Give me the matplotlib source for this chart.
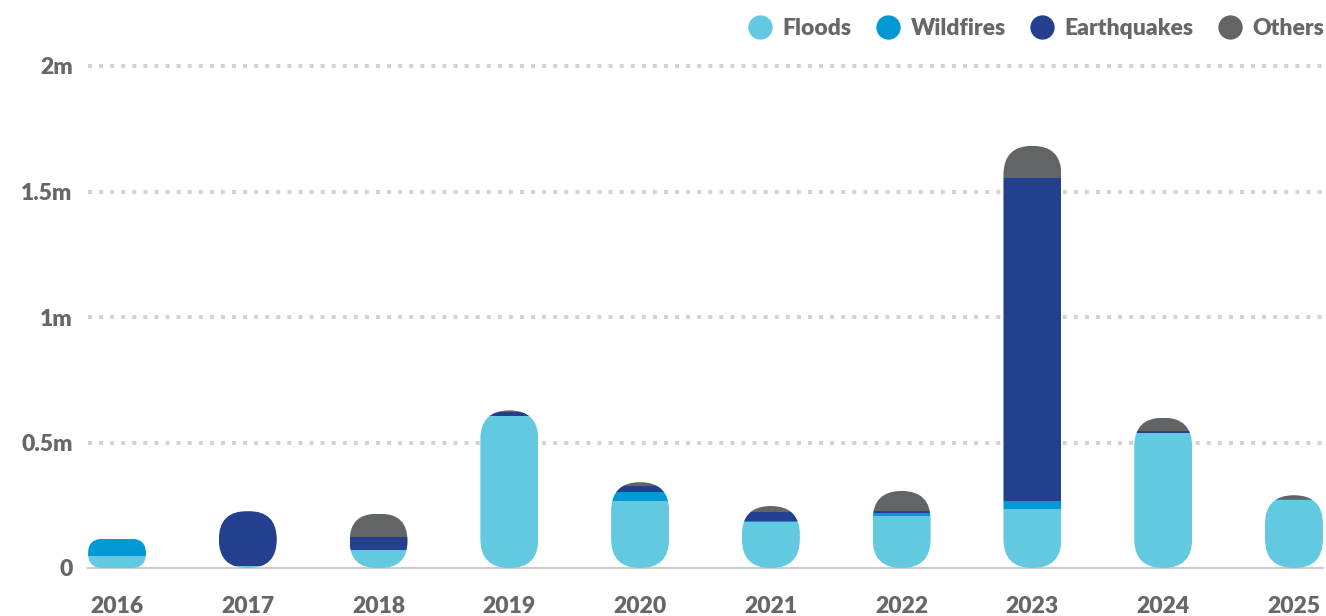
import matplotlib
matplotlib.use("Agg")
import matplotlib.pyplot as plt
from matplotlib.patches import FancyBboxPatch
from matplotlib.lines import Line2D
import numpy as np

plt.rcParams['font.family'] = ['Lato', 'DejaVu Sans']

years = ['2016', '2017', '2018', '2019', '2020', '2021', '2022', '2023', '2024', '2025']
floods = [0.048, 0.008, 0.072, 0.605, 0.266, 0.183, 0.208, 0.235, 0.538, 0.270]
wildfires = [0.068, 0.0, 0.0, 0.0, 0.036, 0.006, 0.011, 0.032, 0.0, 0.004]
earthquakes = [0.0, 0.215, 0.052, 0.017, 0.024, 0.034, 0.008, 1.285, 0.007, 0.0]
others = [0.0, 0.004, 0.092, 0.006, 0.016, 0.024, 0.080, 0.130, 0.054, 0.016]

series = [('Floods', floods, '#62c9e0'),
          ('Wildfires', wildfires, '#0099d4'),
          ('Earthquakes', earthquakes, '#243f8e'),
          ('Others', others, '#636466')]

grey = '#666769'
fsize = 16.5
W, H = 1326, 616
fig = plt.figure(figsize=(W / 100, H / 100), dpi=100)
ax = fig.add_axes([88 / W, (H - 568) / H, (1323 - 88) / W, (568 - 66) / H])

x = np.arange(len(years))
width = 0.443
ax.set_xlim(-0.222, 9.222)
ax.set_ylim(0, 2.0)

# pixel scale, for the pill shaped bars
sx = ax.transData.transform((1, 0))[0] - ax.transData.transform((0, 0))[0]
sy = ax.transData.transform((0, 1))[1] - ax.transData.transform((0, 0))[1]

totals = np.sum([s[1] for s in series], axis=0)
for i in range(len(years)):
    h_px = totals[i] * sy
    r_px = min(width * sx / 2, h_px / 2)
    pill = FancyBboxPatch((x[i] - width / 2, 0), width, totals[i],
                          boxstyle="round,pad=0,rounding_size=%f" % (r_px / sx),
                          mutation_aspect=sx / sy,
                          transform=ax.transData, facecolor='none', edgecolor='none')
    ax.add_patch(pill)
    bottom = 0
    for name, vals, col in series:
        if vals[i] > 0:
            b = ax.bar(x[i], vals[i], width, bottom=bottom, color=col, linewidth=0, zorder=3)
            for p in b:
                p.set_clip_path(pill)
        bottom += vals[i]

# dotted grid
for yv in [0.5, 1.0, 1.5, 2.0]:
    ax.axhline(yv, color='#d3d3d5', lw=2.9, linestyle=(0, (1, 1.75)),
               dash_capstyle='butt', zorder=1, clip_on=False)
ax.axhline(0, color='#cccccc', lw=1.6, zorder=2, clip_on=False)

for s in ax.spines.values():
    s.set_visible(False)
ax.set_yticks([0, 0.5, 1.0, 1.5, 2.0])
ax.set_yticklabels(['0', '0.5m', '1m', '1.5m', '2m'])
ax.set_xticks(x)
ax.set_xticklabels(years)
ax.tick_params(length=0, colors=grey, labelsize=fsize)
ax.tick_params(axis='y', pad=11)
ax.tick_params(axis='x', pad=20.5)
for lab in ax.get_xticklabels() + ax.get_yticklabels():
    lab.set_fontweight('heavy')

handles = [Line2D([], [], marker='o', linestyle='none', markersize=17.5,
                  markerfacecolor=c, markeredgecolor='none', label=n)
           for n, v, c in series]
fig.legend(handles=handles, loc='upper right', bbox_to_anchor=(1.0146, 1.004), ncol=4,
           frameon=False, handletextpad=0.0, columnspacing=0.57,
           prop={'weight': 'heavy', 'size': fsize}, labelcolor=grey)

fig.savefig('out.png', dpi=100)
